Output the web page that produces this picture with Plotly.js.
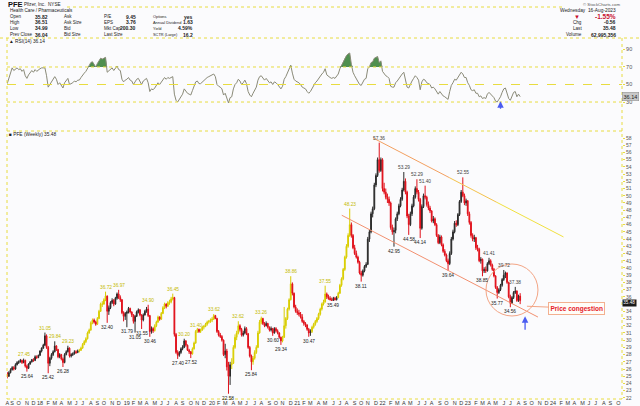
<!DOCTYPE html>
<html><head><meta charset="utf-8">
<script src="https://cdn.plot.ly/plotly-3.0.1.min.js"></script>
<style>html,body{margin:0;padding:0;background:#fbfbfd;}#chart{width:640px;height:406px;}</style>
</head><body><div id="chart"></div>
<script>
// ---------- DATA (weekly bars, first bar = week of 2017-08-14) ----------
const firstWeek = '2017-08-14';
const opens = [
25.4,25.0,25.5,25.9,26.2,26.0,26.6,26.9,27.0,27.2,
26.9,27.2,26.4,26.1,26.7,27.0,27.3,27.2,27.7,27.6,
27.9,28.5,28.9,29.3,30.6,29.0,26.8,27.5,28.0,28.4,
29.2,28.7,27.7,28.0,27.4,26.9,28.0,28.4,28.9,27.8,
28.0,28.1,28.4,28.3,28.5,28.6,28.9,29.4,29.8,30.2,
31.0,31.4,32.4,32.8,32.5,32.2,33.0,34.0,35.0,35.0,
35.6,36.1,34.0,34.5,35.2,35.5,35.0,35.8,36.4,35.9,
35.6,33.8,33.3,33.7,33.9,34.4,33.9,33.5,32.6,33.3,
33.9,34.2,33.5,32.8,33.5,34.0,34.3,33.4,31.2,31.6,
31.3,32.0,32.5,33.2,32.9,33.7,34.5,35.0,34.7,35.2,
35.3,35.7,35.9,30.8,28.3,27.9,28.3,28.8,29.0,29.9,
29.3,28.6,28.4,28.1,28.8,29.6,31.2,31.5,31.2,31.4,
31.8,31.9,32.2,32.5,32.6,32.8,32.9,33.4,33.0,31.2,
30.7,30.5,30.0,28.0,28.5,26.3,25.0,26.6,26.8,29.0,
30.4,31.0,32.0,31.5,30.7,31.0,31.6,30.9,29.0,27.8,
27.0,27.5,28.3,29.0,31.0,32.5,33.0,32.3,32.0,32.3,
31.8,31.4,31.6,31.0,31.6,31.3,31.0,30.4,29.9,30.4,
32.0,33.0,34.3,35.6,37.8,36.5,34.6,34.0,33.8,33.6,
33.2,32.6,32.3,32.1,31.5,31.0,31.2,31.8,32.2,32.6,
33.0,33.6,34.3,35.0,35.3,36.4,36.0,35.8,35.6,35.5,
35.8,35.6,35.9,36.5,37.6,38.5,39.8,41.5,43.0,44.5,
46.0,44.5,42.8,42.0,41.5,40.8,39.3,39.0,39.6,40.2,
40.5,44.0,45.0,47.5,48.2,51.5,52.8,55.0,53.5,55.0,
51.0,50.5,49.8,49.5,49.0,45.6,45.0,45.2,46.8,47.5,
48.6,49.5,50.8,52.0,50.5,47.2,46.0,47.5,48.6,49.8,
51.0,50.5,49.5,45.5,48.5,50.0,49.8,48.8,48.3,47.9,
46.5,46.8,46.0,44.5,43.5,44.3,43.2,42.3,41.8,41.0,
40.6,42.0,44.0,45.0,46.2,46.0,47.4,49.2,50.5,50.0,
49.0,49.3,47.5,46.3,44.5,44.0,44.2,42.8,42.6,41.0,
41.2,39.6,39.8,39.6,40.6,41.0,40.4,39.8,38.9,37.3,
36.6,37.0,37.6,38.4,39.0,39.3,38.0,36.0,35.1,35.9,
36.6,36.8,35.5,36.1];
const highs = [
25.6,25.7,26.1,26.4,26.4,26.8,27.1,27.2,27.4,27.3,
27.45,27.3,26.6,26.8,27.1,27.4,27.5,27.9,27.9,28.0,
28.6,29.0,29.5,31.05,30.8,29.2,27.7,28.2,28.6,29.84,
29.3,28.8,28.2,28.1,27.6,28.2,28.6,29.23,29.0,28.2,
28.3,28.6,28.6,28.7,28.8,29.1,29.6,30.0,30.4,31.2,
31.6,32.6,33.0,33.0,32.7,33.2,34.2,35.2,35.4,35.8,
36.72,36.2,34.8,35.4,35.8,35.7,36.0,36.6,36.97,36.2,
35.7,34.0,33.9,34.1,34.6,34.5,34.0,33.6,33.5,34.1,
34.4,34.3,33.6,33.7,34.2,34.6,34.90,33.5,31.9,31.8,
32.2,32.7,33.4,33.3,33.9,34.7,35.2,35.1,35.4,35.6,
36.0,36.45,36.0,31.0,28.6,28.5,29.0,29.3,30.2,30.0,
29.4,28.8,28.5,29.0,29.8,31.4,31.7,31.6,31.6,32.0,
32.1,32.4,32.7,32.8,33.0,33.2,33.62,33.5,33.1,31.4,
31.0,30.7,30.1,29.5,28.8,27.0,27.0,27.5,29.3,30.8,
31.3,32.62,32.2,31.7,31.3,31.9,31.8,31.0,29.2,28.0,
27.8,28.6,29.3,31.3,32.8,33.26,33.1,32.5,32.6,32.4,
31.9,31.9,31.7,31.8,31.8,31.5,31.1,30.5,30.6,34.6,
33.2,34.5,35.8,38.86,38.0,36.6,34.9,34.4,34.2,33.9,
33.6,32.8,32.5,32.2,31.7,31.5,32.0,32.4,32.8,33.2,
33.8,34.5,35.2,35.6,37.55,36.6,36.3,36.1,35.9,36.0,
36.0,36.1,36.7,37.8,38.7,40.0,41.7,43.3,44.8,48.23,
46.3,44.7,43.2,42.4,41.7,41.0,39.6,39.8,40.4,40.8,
44.3,45.3,47.8,48.5,51.8,53.1,55.3,57.36,55.3,55.2,
51.8,51.0,50.3,49.9,49.2,46.0,45.6,47.0,47.8,48.9,
49.8,51.1,53.29,52.4,50.7,47.5,47.8,48.9,50.1,51.3,
52.29,50.8,49.7,48.8,50.3,51.40,50.0,49.2,48.6,48.0,
47.2,47.0,46.2,44.7,44.6,44.5,43.4,42.6,42.0,41.3,
42.3,44.3,45.3,46.5,46.6,47.6,49.4,50.8,52.55,50.3,
49.6,49.4,47.8,46.5,44.8,44.6,44.3,43.2,42.8,41.5,
41.3,40.1,40.2,40.8,41.41,41.2,40.6,40.0,39.0,37.5,
37.2,37.8,38.6,39.72,39.5,39.4,38.1,36.3,36.1,36.8,
37.38,36.9,36.3,36.51];
const lows = [
24.7,24.9,25.4,25.8,25.8,25.9,26.5,26.7,26.9,26.7,
26.8,26.2,25.64,26.0,26.6,26.9,27.0,27.1,27.4,27.5,
27.8,28.3,28.8,29.2,28.8,25.42,26.4,27.3,27.8,28.3,
28.5,27.5,27.5,27.2,26.28,26.8,27.9,28.3,27.6,27.6,
27.8,28.0,28.1,28.2,28.3,28.5,28.8,29.3,29.6,30.1,
30.9,31.3,32.2,32.3,32.0,32.1,32.9,33.9,34.6,34.9,
35.4,32.40,33.5,34.3,35.0,34.7,34.9,35.6,35.7,35.3,
33.6,32.6,32.8,31.79,33.7,33.7,33.2,32.3,31.05,33.2,
33.7,33.3,31.55,32.6,33.4,33.8,33.2,30.46,30.9,31.0,
31.2,31.8,32.4,32.7,32.8,33.6,34.3,34.4,34.6,34.9,
35.1,35.5,30.5,28.1,27.40,27.7,28.1,28.6,28.9,29.1,
28.5,28.1,27.52,28.0,28.7,29.5,31.0,31.0,31.0,31.3,
31.5,31.8,32.0,32.3,32.4,32.5,32.8,32.9,31.0,30.5,
30.3,29.8,27.8,27.5,25.8,22.58,23.8,26.0,26.7,28.8,
30.0,30.8,31.2,30.5,30.5,30.8,30.7,28.8,27.6,25.84,
26.6,27.3,28.1,28.9,30.9,32.2,32.1,31.8,31.9,31.6,
31.2,31.2,30.60,30.9,31.1,30.8,30.2,29.34,29.7,30.3,
31.6,32.8,34.1,35.5,36.2,34.4,33.8,33.5,33.3,33.0,
32.4,32.0,31.8,31.3,30.47,30.6,31.0,31.6,32.0,32.4,
32.8,33.4,34.1,34.8,35.2,35.7,35.6,35.5,35.5,35.49,
35.5,35.5,35.8,36.4,37.4,38.3,39.6,41.3,42.8,44.3,
44.2,42.6,41.8,41.3,40.6,39.1,38.11,38.8,39.4,40.0,
40.4,43.6,44.8,47.0,48.0,51.2,52.6,53.2,53.3,50.6,
50.2,49.5,49.0,48.6,45.3,44.6,42.95,44.8,46.5,47.3,
48.4,49.3,50.6,50.2,46.9,44.58,45.8,47.2,48.4,49.6,
50.2,49.2,44.14,45.3,48.3,49.5,48.5,48.0,47.6,46.3,
46.2,45.8,44.3,43.3,43.3,43.0,42.1,41.6,40.8,39.64,
40.4,41.8,43.8,44.8,45.7,45.8,47.2,49.0,49.8,48.7,
48.6,47.2,46.0,44.2,43.7,43.6,42.5,42.3,40.8,40.6,
38.85,39.3,39.3,39.5,40.4,40.2,39.6,38.7,37.1,35.77,
36.4,36.8,37.4,38.2,38.6,37.8,35.8,34.56,35.0,35.7,
36.4,35.3,35.3,34.99];
const closes = [
25.0,25.5,25.9,26.2,26.0,26.6,26.9,27.0,27.2,26.9,
27.2,26.4,26.1,26.7,27.0,27.3,27.2,27.7,27.6,27.9,
28.5,28.9,29.3,30.6,29.0,26.8,27.5,28.0,28.4,29.2,
28.7,27.7,28.0,27.4,26.9,28.0,28.4,28.9,27.8,28.0,
28.1,28.4,28.3,28.5,28.6,28.9,29.4,29.8,30.2,31.0,
31.4,32.4,32.8,32.5,32.2,33.0,34.0,35.0,35.0,35.6,
36.1,34.0,34.5,35.2,35.5,35.0,35.8,36.4,35.9,35.6,
33.8,33.3,33.7,33.9,34.4,33.9,33.5,32.6,33.3,33.9,
34.2,33.5,32.8,33.5,34.0,34.3,33.4,31.2,31.6,31.3,
32.0,32.5,33.2,32.9,33.7,34.5,35.0,34.7,35.2,35.3,
35.7,35.9,30.8,28.3,27.9,28.3,28.8,29.0,29.9,29.3,
28.6,28.4,28.1,28.8,29.6,31.2,31.5,31.2,31.4,31.8,
31.9,32.2,32.5,32.6,32.8,32.9,33.4,33.0,31.2,30.7,
30.5,30.0,28.0,28.5,26.3,25.0,26.6,26.8,29.0,30.4,
31.0,32.0,31.5,30.7,31.0,31.6,30.9,29.0,27.8,27.0,
27.5,28.3,29.0,31.0,32.5,33.0,32.3,32.0,32.3,31.8,
31.4,31.6,31.0,31.6,31.3,31.0,30.4,29.9,30.4,32.0,
33.0,34.3,35.6,37.8,36.5,34.6,34.0,33.8,33.6,33.2,
32.6,32.3,32.1,31.5,31.0,31.2,31.8,32.2,32.6,33.0,
33.6,34.3,35.0,35.3,36.4,36.0,35.8,35.6,35.5,35.8,
35.6,35.9,36.5,37.6,38.5,39.8,41.5,43.0,44.5,46.0,
44.5,42.8,42.0,41.5,40.8,39.3,39.0,39.6,40.2,40.5,
44.0,45.0,47.5,48.2,51.5,52.8,55.0,53.5,55.0,51.0,
50.5,49.8,49.5,49.0,45.6,45.0,45.2,46.8,47.5,48.6,
49.5,50.8,52.0,50.5,47.2,46.0,47.5,48.6,49.8,51.0,
50.5,49.5,45.5,48.5,50.0,49.8,48.8,48.3,47.9,46.5,
46.8,46.0,44.5,43.5,44.3,43.2,42.3,41.8,41.0,40.6,
42.0,44.0,45.0,46.2,46.0,47.4,49.2,50.5,50.0,49.0,
49.3,47.5,46.3,44.5,44.0,44.2,42.8,42.6,41.0,41.2,
39.6,39.8,39.6,40.6,41.0,40.4,39.8,38.9,37.3,36.6,
37.0,37.6,38.4,39.0,39.3,38.0,36.0,35.1,35.9,36.6,
36.8,35.5,36.1,35.48];
const rsi14 = [
51,58,64,69,66,68,69,67,68,65,
67,60,57,61,63,66,64,67,65,67,
68,69,69,69,60,47,50,53,55,59,
56,50,52,49,46,52,54,57,50,51,
52,54,53,55,55,58,61,63,65,69,
71,75,76,73,70,74,77,80,79,80,
81,64,66,68,69,66,69,71,67,66,
56,53,55,56,58,55,54,50,53,56,
57,53,50,54,56,57,52,42,45,44,
46,49,52,50,53,56,58,56,58,57,
58,59,39,32,30,33,37,39,45,42,
40,39,38,43,48,53,54,51,51,53,
54,56,58,59,60,61,62,59,50,48,
47,45,38,40,33,29,35,36,45,50,
52,56,54,50,52,55,51,42,38,36,
40,44,47,55,59,60,57,55,57,54,
52,53,50,53,52,50,47,45,48,56,
59,63,67,72,63,56,54,53,52,50,
47,46,45,42,40,42,46,49,52,54,
57,60,62,64,68,61,59,58,57,58,
57,59,62,68,72,77,80,83,85,86,
73,64,60,57,54,50,49,53,56,57,
68,70,75,76,80,81,82,75,77,65,
62,60,59,57,48,47,47,52,54,57,
59,62,64,57,47,46,51,54,57,60,
58,55,44,53,56,55,52,51,50,46,
47,45,41,39,42,39,37,36,34,33,
42,49,52,56,55,58,62,64,62,58,
58,52,49,44,43,44,40,40,36,37,
34,35,34,39,41,39,37,35,31,30,
33,36,41,45,46,40,34,32,37,41,
42,36,39,36.14];
// weeks drawn with yellow candles (index ranges)
const yellowRuns = [[44,60],[90,101],[113,126],[137,141],[150,155],[168,173],[186,194],[202,209]];
// weeks carrying a price label
const highLabelIdx = [10,23,29,37,60,68,86,101,108,115,126,141,155,173,194,209,227,242,250,255,278,294,303,310];
const lowLabelIdx = [12,25,34,61,73,78,82,87,104,112,135,149,162,167,184,199,216,236,245,252,269,290,299,307];
// channel lines and markup (date, price)
const upperChannel = [['2021-11-24',58.0],['2024-02-15',44.3]];
const lowerChannel = [['2021-07-13',47.3],['2023-10-29',33.2]];
const congestionCenter = ['2023-07-10',36.95];
const congestionArrow = ['2023-09-12',34.7];
const blueArrowPrice = ['2023-09-04',33.3];
const blueArrowRsi = ['2023-05-22',31];
const monthLetters = ['J','F','M','A','M','J','J','A','S','O','N','D'];
const priceTicks = [22,23,24,25,26,27,28,29,30,31,32,33,34,36,37,38,39,40,41,42,43,44,45,46,47,48,49,50,51,52,53,54,55,56,57,58];
const rsiTicks = [30,50,70,90];
const lastPrice = 35.48, lastRsi = 36.14;

// ---------- helpers ----------
function weekDate(i){const p=firstWeek.split('-');const d=new Date(Date.UTC(+p[0],+p[1]-1,+p[2]));d.setUTCDate(d.getUTCDate()+7*i);return d.toISOString().slice(0,10);}
const dates = closes.map((_,i)=>weekDate(i));
const tickVals=[], tickText=[]; let lastM='';
for(let i=0;i<375;i++){const d=weekDate(i);const m=d.slice(0,7);if(m!==lastM){lastM=m;const mo=+d.slice(5,7);tickVals.push(d);tickText.push(mo===1?d.slice(2,4):monthLetters[mo-1]);}}
const inYellow=i=>yellowRuns.some(r=>i>=r[0]&&i<=r[1]);
function sub(f){const idx=closes.map((_,i)=>i).filter(f);return {x:idx.map(i=>dates[i]),open:idx.map(i=>opens[i]),high:idx.map(i=>highs[i]),low:idx.map(i=>lows[i]),close:idx.map(i=>closes[i])};}
function candle(f,col,fill){return Object.assign({type:'candlestick',xaxis:'x',yaxis:'y',hoverinfo:'skip',whiskerwidth:0,
 increasing:{line:{color:col,width:1},fillcolor:fill},decreasing:{line:{color:col,width:1},fillcolor:fill}},sub(f));}

const L=7,R=18,T=0,B=8,W=640,H=406;
const PX=x=>(x-L)/(W-L-R), PY=y=>(H-B-y)/(H-T-B);
const FONT='Liberation Sans, Arial, sans-serif';

const traces=[
 candle(i=>closes[i]>=opens[i]&&!inYellow(i),'#2a2a2a','#3a3a3a'),
 candle(i=>closes[i]>=opens[i]&&inYellow(i),'#d8cc00','#ece400'),
 candle(i=>closes[i]<opens[i],'#e0101a','#e81020'),
 {type:'scatter',mode:'lines',x:dates,y:dates.map(()=>70),xaxis:'x2',yaxis:'y2',line:{width:0,color:'rgba(0,0,0,0)'},hoverinfo:'skip'},
 {type:'scatter',mode:'lines',x:dates,y:rsi14.map(v=>Math.max(v,70)),xaxis:'x2',yaxis:'y2',fill:'tonexty',fillcolor:'#4f8f4f',line:{width:0,color:'rgba(0,0,0,0)'},hoverinfo:'skip'},
 {type:'scatter',mode:'lines',x:dates,y:rsi14,xaxis:'x2',yaxis:'y2',line:{width:1,color:'#8a8a78'},hoverinfo:'skip'}
];

const ann=[];
function txt(t,x,y,o){o=o||{};ann.push({text:t,xref:'paper',yref:'paper',x:PX(x),y:PY(y),xanchor:o.xa||'left',yanchor:'middle',showarrow:false,
 font:{family:FONT,size:o.size||5,color:o.color||'#222',weight:o.bold?'bold':'normal'}});}
// header
txt('PFE',6,4.5,{size:7.5,bold:true,color:'#111'});
txt('Pfizer, Inc.  NYSE',22,4.5,{size:4.6});
txt('Health Care / Pharmaceuticals',8,10.5,{size:4.6});
const rowsY=[16.5,22.5,28.5,34.5];
const col1=['Open','High','Low','Prev Close'], val1=['35.82','36.51','34.99','36.04'];
const col2=['Ask','Ask Size','Bid','Bid Size'];
const col3=['P/E','EPS','Mkt Cap','Last Size'], val3=['9.45','3.76','200.30',''];
const col4=['Options','Annual Dividend','Yield','SCTR (Large)'], val4=['yes','1.63','4.59%','16.2'];
rowsY.forEach((y,k)=>{txt(col1[k],8,y,{size:4.5});txt(val1[k],50,y,{xa:'right',bold:true,size:5});
 txt(col2[k],62,y,{size:4.5});txt(col3[k],102,y,{size:4.5});if(val3[k])txt(val3[k],138,y,{xa:'right',bold:true,size:5});
 txt(col4[k],151,y,{size:3.9});txt(val4[k],195,y,{xa:'right',bold:true,size:5});});
txt('© StockCharts.com',622,4,{xa:'right',size:4.3,color:'#555'});
txt('Wednesday  16-Aug-2023',618,10.5,{xa:'right',size:4.8});
txt('▼',577,16.5,{xa:'center',size:6,color:'#c8102e'});
txt('-1.55%',618,16.5,{xa:'right',size:6.5,bold:true,color:'#c8102e'});
txt('Chg',577,22.5,{xa:'center',size:4.6});txt('-0.56',618,22.5,{xa:'right',bold:true,size:5});
txt('Last',577,28.5,{xa:'center',size:4.6});txt('35.48',618,28.5,{xa:'right',bold:true,size:5});
txt('Volume',574,34.5,{xa:'center',size:4.6});txt('62,995,356',618,34.5,{xa:'right',bold:true,size:5});
txt('▲ RSI(14) 36.14',7,41.5,{size:4.8});
txt('■ PFE (Weekly) 35.48',7,134.5,{size:4.8});
// price labels
highLabelIdx.forEach(i=>ann.push({text:highs[i].toFixed(2),x:dates[i],y:highs[i],xref:'x',yref:'y',yanchor:'bottom',yshift:0,showarrow:false,
 font:{family:FONT,size:4.8,color:i<215?'#c4ba00':'#444'}}));
lowLabelIdx.forEach(i=>ann.push({text:lows[i].toFixed(2),x:dates[i],y:lows[i],xref:'x',yref:'y',yanchor:'top',yshift:0,showarrow:false,
 font:{family:FONT,size:4.8,color:'#222'}}));
// last value tags
ann.push({text:lastPrice.toFixed(2),xref:'paper',yref:'y',x:1,y:lastPrice,xanchor:'left',yanchor:'middle',yshift:-2,showarrow:false,bgcolor:'#1a1a1a',borderpad:0.3,font:{family:FONT,size:4.6,color:'#fff'}});
ann.push({text:lastRsi.toFixed(2),xref:'paper',yref:'y2',x:1,y:lastRsi,xanchor:'left',yanchor:'middle',showarrow:false,bgcolor:'#c8c8c8',bordercolor:'#888',borderwidth:0.5,borderpad:1,font:{family:FONT,size:5.5,color:'#222'}});
// price congestion callout
ann.push({text:'<b>Price congestion</b>',x:congestionArrow[0],y:congestionArrow[1],xref:'x',yref:'y',showarrow:true,arrowhead:0,arrowwidth:1,arrowcolor:'#f3a585',
 ax:50,ay:2,bordercolor:'#f3b090',borderwidth:1,borderpad:1.5,bgcolor:'#fffdf8',font:{family:FONT,size:6.5,color:'#e5202a'}});
// blue arrows
ann.push({text:'',x:blueArrowPrice[0],y:blueArrowPrice[1],xref:'x',yref:'y',showarrow:true,arrowhead:2,arrowsize:1,arrowwidth:1.3,arrowcolor:'#4b5cf0',ax:0,ay:15});
ann.push({text:'',x:blueArrowRsi[0],y:blueArrowRsi[1],xref:'x2',yref:'y2',showarrow:true,arrowhead:2,arrowsize:1,arrowwidth:1.3,arrowcolor:'#4b5cf0',ax:0,ay:9});

const YEL='#e8dc40';
const shapes=[];
function pline(x0,y0,x1,y1,color,dash,w){shapes.push({type:'line',xref:'paper',yref:'paper',x0:PX(x0),y0:PY(y0),x1:PX(x1),y1:PY(y1),line:{color:color,width:w||1,dash:dash||'dot'}});}
pline(67,7,563,7,YEL);
pline(0,38,640,38,YEL);
pline(7,38,7,399,YEL);
pline(622,38,622,399,YEL);
pline(7,131,622,131,YEL);
pline(7,399,622,399,YEL);
[[70,'dot'],[50,'dash'],[30,'dot']].forEach(([v,d])=>shapes.push({type:'line',xref:'paper',yref:'y2',x0:0,x1:1,y0:v,y1:v,line:{color:YEL,width:1,dash:d}}));
function seg(a,b,t0,t1,color){const ta=new Date(a[0]).getTime(),tb=new Date(b[0]).getTime();
 const at=t=>new Date(ta+(tb-ta)*t).toISOString().slice(0,10), av=t=>a[1]+(b[1]-a[1])*t;
 shapes.push({type:'line',xref:'x',yref:'y',x0:at(t0),y0:av(t0),x1:at(t1),y1:av(t1),line:{color:color,width:1}});}
seg(upperChannel[0],upperChannel[1],0,0.4,'#f3a060');
seg(upperChannel[0],upperChannel[1],0.4,0.65,'#f4c24c');
seg(upperChannel[0],upperChannel[1],0.65,1,'#f0e040');
seg(lowerChannel[0],lowerChannel[1],0,1,'#f29070');
shapes.push({type:'circle',xref:'x',yref:'y',xsizemode:'pixel',ysizemode:'pixel',xanchor:congestionCenter[0],yanchor:congestionCenter[1],x0:-26,x1:26,y0:-26,y1:26,line:{color:'#f3a585',width:1}});

const layout={width:W,height:H,margin:{l:L,r:R,t:T,b:B},paper_bgcolor:'#fbfbfd',plot_bgcolor:'#fbfbfd',showlegend:false,
 font:{family:FONT,size:6,color:'#333'},
 xaxis:{type:'date',range:['2017-08-13','2024-10-22'],domain:[0,1],anchor:'y',tickmode:'array',tickvals:tickVals,ticktext:tickText,tickangle:0,
  tickfont:{size:5.5,color:'#333'},ticks:'',showgrid:false,zeroline:false,showline:false,rangeslider:{visible:false}},
 xaxis2:{type:'date',matches:'x',anchor:'y2',domain:[0,1],showticklabels:false,ticks:'',showgrid:false,zeroline:false,showline:false,rangeslider:{visible:false}},
 yaxis:{domain:[0,PY(131)],range:[21.99,58.97],side:'right',tickmode:'array',tickvals:priceTicks,ticks:'outside',ticklen:2,tickcolor:YEL,
  tickfont:{size:5,color:'#555'},showgrid:false,zeroline:false,showline:false},
 yaxis2:{domain:[PY(110),PY(38)],range:[20.9,103.1],side:'right',tickmode:'array',tickvals:rsiTicks,ticks:'outside',ticklen:2,tickcolor:YEL,
  tickfont:{size:5.5,color:'#555'},showgrid:false,zeroline:false,showline:false},
 annotations:ann,shapes:shapes};
Plotly.newPlot('chart',traces,layout,{staticPlot:true,displayModeBar:false});
</script></body></html>
